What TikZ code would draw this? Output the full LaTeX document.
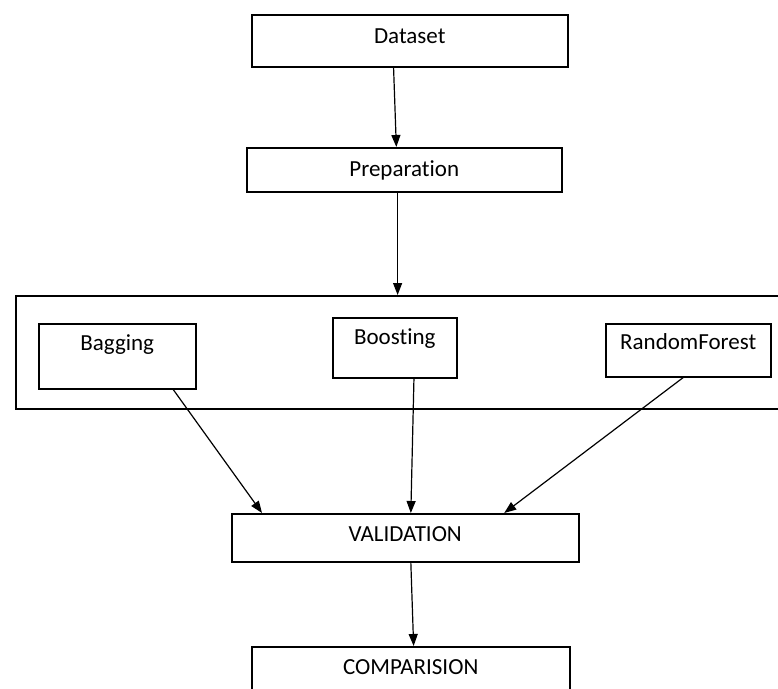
\documentclass[tikz,border=0pt]{standalone}
\usepackage{fontspec}
\setmainfont{Carlito}[Ligatures=NoCommon]
\usepackage{tikz}
\usetikzlibrary{arrows.meta,calc}

\begin{document}
\begin{tikzpicture}[x=1pt,y=-1pt,
    stepbox/.style={draw, line width=1.5pt, inner sep=0pt, anchor=north west, align=center,
      font=\fontsize{23}{27}\selectfont},
    flow/.style={-{Triangle[length=12pt,width=9pt]}, line width=1.2pt}]
      \useasboundingbox (0,0) rectangle (778,688);
      \clip (0,0) rectangle (778,688);
      % boxes, top left corner at pixel position
      \node[stepbox, text width=316pt, text height=29pt, text depth=23pt] (data) at (251,14) {Dataset};
      \node[stepbox, text width=315pt, text height=29pt, text depth=15pt] (prep) at (246,147) {Preparation};
      \node[draw, line width=1.5pt, inner sep=0pt, anchor=north west, minimum width=790pt, minimum height=113pt] (models) at (15,295) {};
      \node[stepbox, text width=157pt, text height=27pt, text depth=38pt] (bag) at (38,323) {Bagging};
      \node[stepbox, text width=124pt, text height=27pt, text depth=33pt] (boost) at (332,317) {Boosting};
      \node[stepbox, text width=165pt, text height=26pt, text depth=27pt] (rf) at (605,323) {RandomForest};
      \node[stepbox, text width=347pt, text height=28pt, text depth=20pt] (valid) at (231,513) {VALIDATION};
      \node[stepbox, text width=318pt, text height=28pt, text depth=25pt] (comp) at (251,646) {COMPARISION};
      % arrows
      \draw[flow] ($(data.south west)!0.449!(data.south east)$) -- ($(prep.north west)!0.475!(prep.north east)$);
      \draw[flow] ($(prep.south west)!0.479!(prep.south east)$) coordinate (p) -- (p |- models.north);
      \draw[flow] ($(bag.south west)!0.853!(bag.south east)$) -- ($(valid.north west)!0.089!(valid.north east)$);
      \draw[flow] ($(boost.south west)!0.653!(boost.south east)$) -- ($(valid.north west)!0.516!(valid.north east)$);
      \draw[flow] ($(rf.south west)!0.47!(rf.south east)$) -- ($(valid.north west)!0.784!(valid.north east)$);
      \draw[flow] ($(valid.south west)!0.516!(valid.south east)$) -- ($(comp.north west)!0.509!(comp.north east)$);
\end{tikzpicture}
\end{document}
